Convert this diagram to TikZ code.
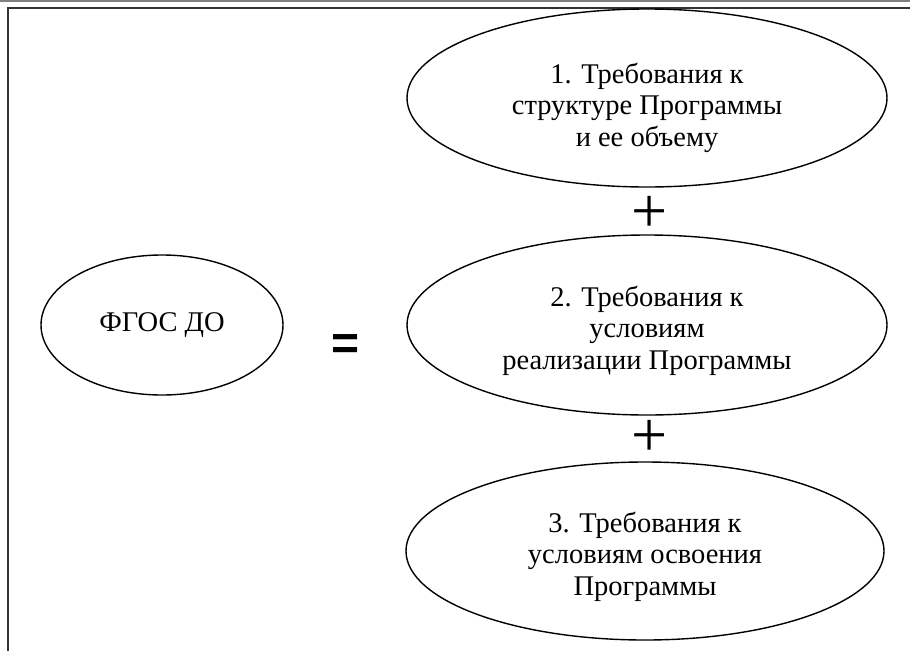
\documentclass[tikz,border=0pt]{standalone}
\usepackage{fontspec}
\setmainfont{Liberation Serif}
\newfontfamily\eqfont{Liberation Sans}
\usetikzlibrary{positioning,shapes.geometric}

\begin{document}
\begin{tikzpicture}[x=1pt,y=-1pt,
    req/.style={ellipse, draw, line width=1.4pt, inner sep=0pt, align=center,
      font=\fontsize{28.5}{31.5}\selectfont},
    sign/.style={inner sep=0pt}]
  \useasboundingbox (0,0) rectangle (910,651);

  % frame
  \draw[gray, line width=2pt] (0,0.5) -- (910,0.5);
  \draw[black!80, line width=2pt] (7.5,651) -- (7.5,7.5) -- (910,7.5);

  \node[req, minimum width=242pt, minimum height=140pt] (fgos) at (162,325) {ФГОС ДО};
  \node[sign, font=\eqfont\bfseries\fontsize{48}{48}\selectfont] (eq) at (346,347) {=};

  \node[req, minimum width=480pt, minimum height=178pt] (req1) at (647,98)
    {\rule{0pt}{40pt}1. Требования к\\структуре Программы\\и ее объему};
  \node[req, minimum width=480pt, minimum height=180pt] (req2) at (647,325)
    {\rule{0pt}{32pt}2. Требования к\\условиям\\реализации Программы};
  \node[req, minimum width=478pt, minimum height=178pt] (req3) at (645,551)
    {\rule{0pt}{32pt}3. Требования к\\условиям освоения\\Программы};

  \node[sign, font=\fontsize{64}{64}\selectfont] (plus1) at (650,214) {+};
  \node[sign, font=\fontsize{64}{64}\selectfont] (plus2) at (650,438) {+};
\end{tikzpicture}
\end{document}
